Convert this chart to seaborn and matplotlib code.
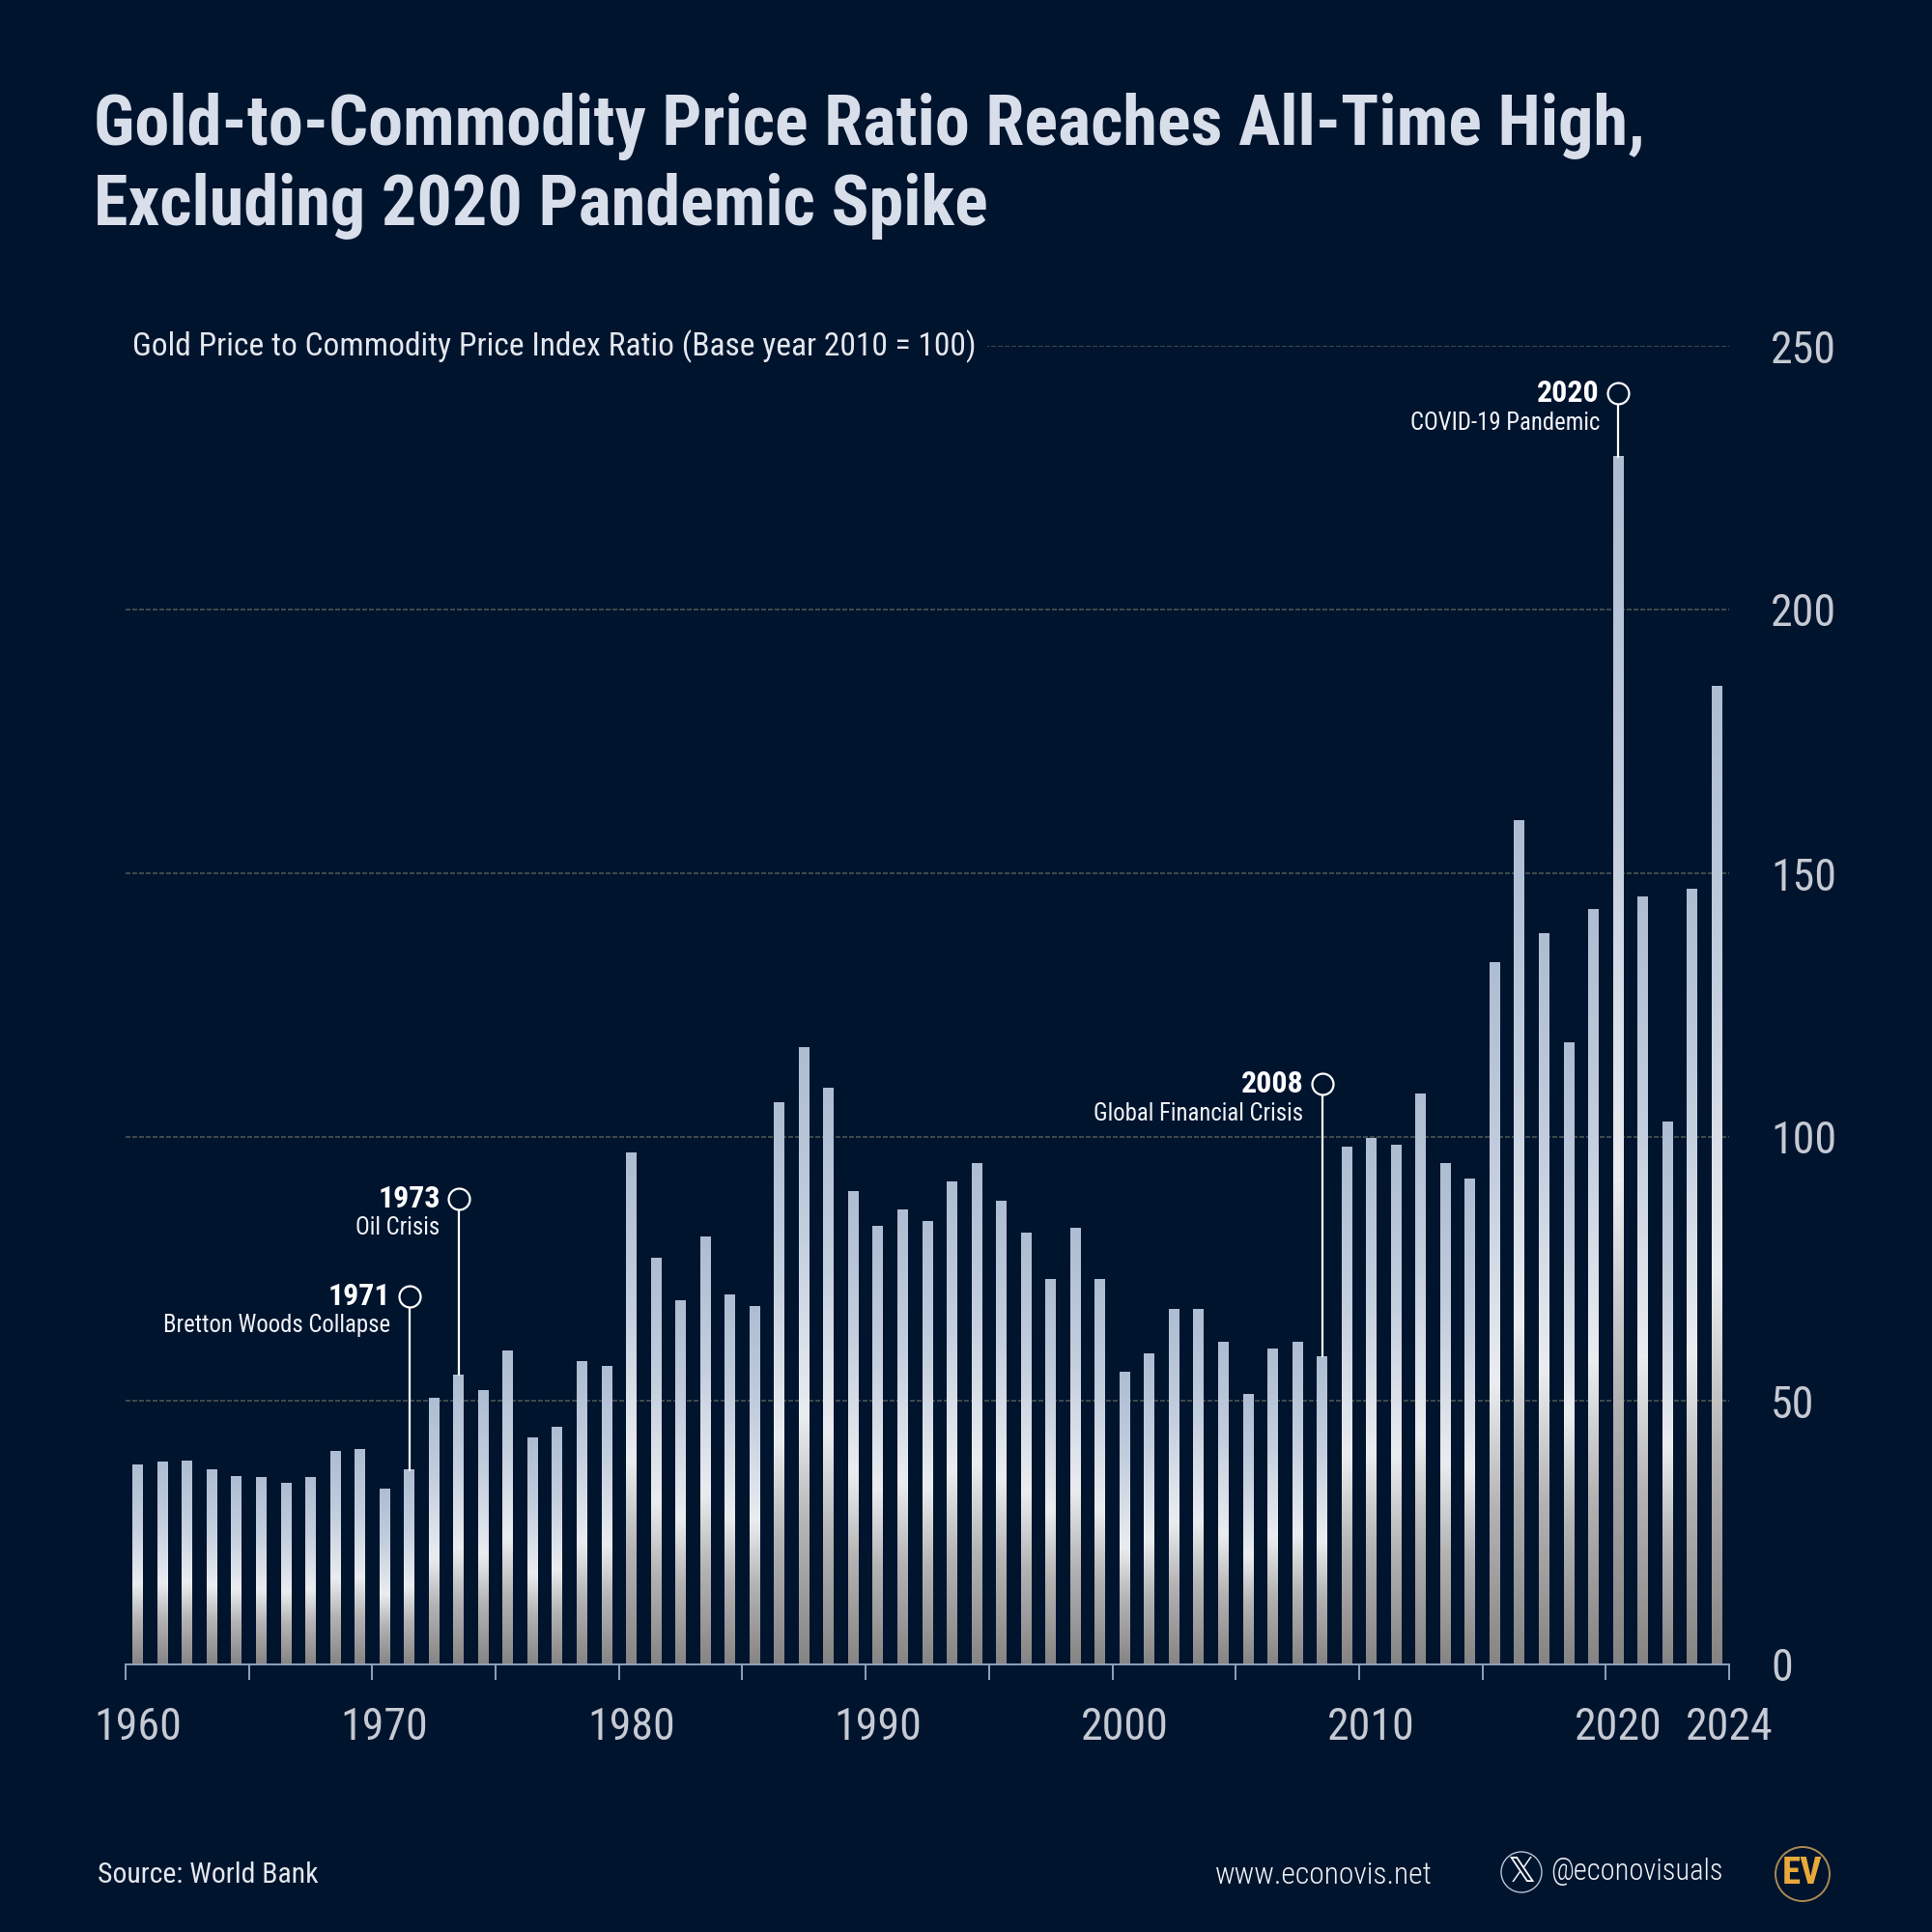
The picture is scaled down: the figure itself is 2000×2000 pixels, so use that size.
import matplotlib
matplotlib.use('Agg')
import matplotlib.pyplot as plt
from matplotlib.colors import LinearSegmentedColormap
from matplotlib.patches import Circle
import numpy as np
import pandas as pd
import seaborn as sns

# Chart values
years = list(range(1960, 2025))
ratio = [
    37.9, 38.3, 38.6, 36.9, 35.7, 35.5, 34.4, 35.5, 40.3, 40.7,
    33.3, 36.9, 50.4, 54.9, 52.0, 59.5, 42.9, 45.0, 57.5, 56.5,
    97.0, 77.0, 69.0, 81.0, 70.0, 67.8, 106.5, 117.0, 109.3, 89.7,
    83.0, 86.2, 84.0, 91.4, 94.9, 87.9, 81.8, 73.0, 82.7, 73.0,
    55.4, 58.9, 67.3, 67.3, 61.0, 51.2, 59.8, 61.0, 58.4, 98.0,
    99.8, 98.4, 108.2, 94.9, 92.0, 133.0, 160.0, 138.5, 117.8, 143.2,
    229.0, 145.6, 102.8, 147.0, 185.5,
]
y_ticks = [0, 50, 100, 150, 200, 250]
x_label_years = [1960, 1970, 1980, 1990, 2000, 2010, 2020]

# Events called out on the chart: year, height of the ring, description
event_years = [1971, 1973, 2008, 2020]
event_tops = [69.8, 88.3, 110.0, 241.0]
event_names = ['Bretton Woods Collapse', 'Oil Crisis', 'Global Financial Crisis', 'COVID-19 Pandemic']

BG = '#01142e'

sns.set_theme(style='dark', rc={'figure.facecolor': BG, 'axes.facecolor': BG})
plt.rcParams['font.family'] = ['Roboto Condensed', 'DejaVu Sans']

fig = plt.figure(figsize=(10, 10), dpi=200)
ax = fig.add_axes([0.065, 0.1385, 0.83, 0.6825])

df = pd.DataFrame({'year': years, 'ratio': ratio})
sns.barplot(data=df, x='year', y='ratio', width=0.43, color='#b5c2d4', ax=ax, zorder=2)

# Paint the vertical gradient over each bar
metal = LinearSegmentedColormap.from_list('metal', [
    (0.0, '#aebdd2'), (0.3, '#c3cede'), (0.6, '#eaedf0'), (0.78, '#b4b3b3'), (1.0, '#878484'),
])
gradient = np.linspace(0, 1, 256).reshape(-1, 1)
for bar in list(ax.patches):
    x0, w, h = bar.get_x(), bar.get_width(), bar.get_height()
    ax.imshow(gradient, cmap=metal, aspect='auto', extent=[x0, x0 + w, 0, h], zorder=2, interpolation='bilinear')
    bar.set_visible(False)

ax.set_xlim(-0.5, 64.5)
ax.set_ylim(0, 250)
ax.set_xlabel('')
ax.set_ylabel('')

# Dashed grid, drawn by hand so it stays behind the bars
for val in y_ticks[1:]:
    ax.axhline(val, color='#4a5450', lw=0.6, ls=(0, (3, 1.2)), zorder=1)

# X axis: ticks every 5 years on bar edges, labels under the decades
for side in ['top', 'left', 'right']:
    ax.spines[side].set_visible(False)
ax.spines['bottom'].set_color('#8ea3bb')
ax.spines['bottom'].set_linewidth(0.7)
ax.set_xticks(np.arange(-0.5, 65, 5))
ax.set_xticklabels([])
ax.xaxis.remove_overlapping_locs = False
label_pos = [y - 1960 for y in x_label_years] + [64.5]
ax.set_xticks(label_pos, minor=True)
ax.set_xticklabels([str(y) for y in x_label_years] + ['2024'], minor=True)
ax.tick_params(axis='x', which='major', length=5.8, width=0.7, color='#8ea3bb', bottom=True)
ax.tick_params(axis='x', which='minor', length=0, pad=15.5, labelsize=16.5, labelcolor='#c5cad3')

ax.yaxis.tick_right()
ax.set_yticks(y_ticks)
ax.tick_params(axis='y', length=0, pad=15.5, labelsize=16.5, labelcolor='#c5cad3')

# Event rings, stems and text
for year, top, name in zip(event_years, event_tops, event_names):
    pos = year - 1960
    ax.plot([pos, pos], [ratio[pos], top], color='white', lw=0.8, zorder=3)
    ax.plot(pos, top, marker='o', ms=7.9, mfc=BG, mec='white', mew=0.8, zorder=4, clip_on=False)
    ax.text(pos - 0.75, top, str(year), ha='right', va='center', color='white', fontsize=11.5, fontweight='bold', zorder=4)
    ax.text(pos - 0.75, top - 5.6, name, ha='right', va='center', color='#f0f3f7', fontsize=8.9, zorder=4)

# Subtitle sits on the 250 line and hides its left part
fig.text(137 / 2000, 1 - 359 / 2000, 'Gold Price to Commodity Price Index Ratio (Base year 2010 = 100)',
         ha='left', va='center', color='#e4e8ee', fontsize=12.05,
         bbox=dict(facecolor=BG, edgecolor='none', pad=4), zorder=5)

# Title
fig.text(97 / 2000, 1 - 131 / 2000, 'Gold-to-Commodity Price Ratio Reaches All-Time High,',
         ha='left', va='center', color='#d8dfea', fontsize=26, fontweight='bold')
fig.text(97 / 2000, 1 - 214 / 2000, 'Excluding 2020 Pandemic Spike',
         ha='left', va='center', color='#d8dfea', fontsize=26, fontweight='bold')

# Footer
fig.text(101 / 2000, 1 - 1941 / 2000, 'Source: World Bank', ha='left', va='center', color='#e4e8ee', fontsize=10.7)
fig.text(1258 / 2000, 1 - 1942 / 2000, 'www.econovis.net', ha='left', va='center', color='#eef1f5', fontsize=11.4, fontweight='light')
fig.text(1605 / 2000, 1 - 1938 / 2000, '@econovisuals', ha='left', va='center', color='#eef1f5', fontsize=11, fontweight='light')

fig.add_artist(Circle((1575 / 2000, 1 - 1938 / 2000), 21 / 2000, transform=fig.transFigure,
                      facecolor='none', edgecolor='#b7c4d6', lw=0.5))
fig.text(1575 / 2000, 1 - 1938 / 2000, '\U0001D54F', ha='center', va='center', color='white', fontsize=13,
         family='DejaVu Sans')
fig.add_artist(Circle((1866 / 2000, 1 - 1940 / 2000), 28 / 2000, transform=fig.transFigure,
                      facecolor='none', edgecolor='#a98a52', lw=0.7))
fig.text(1866 / 2000, 1 - 1940 / 2000, 'EV', ha='center', va='center', color='#e9a93a', fontsize=14, fontweight='bold')

fig.savefig('out.png', dpi=200, facecolor=BG)
